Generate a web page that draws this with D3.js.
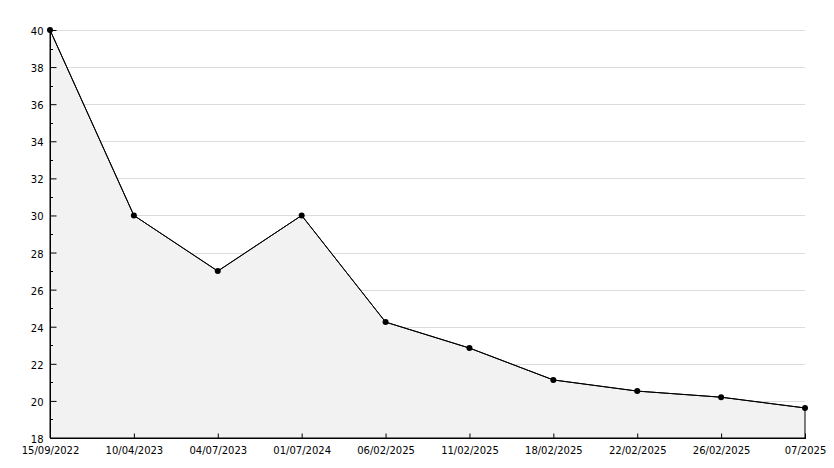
<!DOCTYPE html>
<html><head><meta charset="utf-8">
<script src="https://cdn.jsdelivr.net/npm/d3@7"></script>
<style>body{margin:0;background:#fff}svg{display:block}text{font-family:"DejaVu Sans",sans-serif;font-size:10px;fill:#000}</style>
</head><body><svg id="c" width="834" height="468"></svg>
<script>
const categories = ["15/09/2022","10/04/2023","04/07/2023","01/07/2024","06/02/2025","11/02/2025","18/02/2025","22/02/2025","26/02/2025","07/2025"];
const values = [40, 30, 27, 30, 24.25, 22.85, 21.13, 20.53, 20.2, 19.62];
const yTicks = [18,20,22,24,26,28,30,32,34,36,38,40];
const yMinor = [19,21,23,25,27,29,31,33,35,37,39];

const svg = d3.select("#c");
const L=50, R=805, T=30, B=438;
const x = d3.scalePoint().domain(categories).range([L,R]);
const y = d3.scaleLinear().domain([18,40]).range([B,T]);
const data = categories.map((c,i)=>({c,v:values[i]}));

// grid
svg.append("g").selectAll("line").data(yTicks.filter(t=>t>18)).join("line")
  .attr("x1",L).attr("x2",R).attr("y1",d=>Math.round(y(d))+0.5).attr("y2",d=>Math.round(y(d))+0.5)
  .attr("stroke","#dcdcdc").attr("stroke-width",1);

// area
const area = d3.area().x(d=>x(d.c)).y0(B).y1(d=>y(d.v));
svg.append("path").datum(data).attr("d",area).attr("fill","#f2f2f2")
  .attr("stroke","#000").attr("stroke-width",1);

// line
svg.append("path").datum(data).attr("d",d3.line().x(d=>x(d.c)).y(d=>y(d.v)))
  .attr("fill","none").attr("stroke","#000").attr("stroke-width",1);

// y axis
const ya = svg.append("g").attr("transform",`translate(${L+0.5},0)`)
  .call(d3.axisLeft(y).tickValues(yTicks).tickSize(-6).tickPadding(7).tickFormat(d3.format("d")));
ya.select(".domain").remove();
ya.selectAll("text").attr("font-size",10).attr("font-family","DejaVu Sans").attr("dy","0.45em");
svg.append("g").selectAll("line").data(yMinor).join("line")
  .attr("x1",L).attr("x2",L+3).attr("y1",d=>Math.round(y(d))+0.5).attr("y2",d=>Math.round(y(d))+0.5).attr("stroke","#000");
svg.append("line").attr("x1",L+0.5).attr("x2",L+0.5).attr("y1",T).attr("y2",B+0.5).attr("stroke","#000");

// x axis
const xa = svg.append("g").attr("transform",`translate(0,${B+0.5})`)
  .call(d3.axisBottom(x).tickSize(-5).tickPadding(8));
xa.select(".domain").remove();
xa.selectAll("text").attr("font-size",10).attr("font-family","DejaVu Sans");
svg.append("line").attr("x1",L).attr("x2",R+1).attr("y1",B+0.5).attr("y2",B+0.5).attr("stroke","#000");

// markers
svg.append("g").selectAll("circle").data(data).join("circle")
  .attr("cx",d=>x(d.c)).attr("cy",d=>y(d.v)).attr("r",3).attr("fill","#000");
</script></body></html>
